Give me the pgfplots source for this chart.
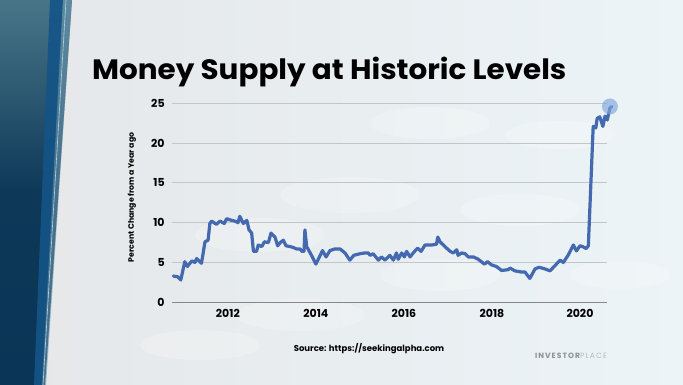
\documentclass[border=0pt]{standalone}
\usepackage{fontspec}
\setmainfont{Poppins}
\usepackage{pgfplots}
\pgfplotsset{compat=1.18}
\definecolor{linecol}{HTML}{4469B0}
\definecolor{gridcol}{HTML}{C3C6C9}
\definecolor{navy}{HTML}{0B3556}
\definecolor{navymid}{RGB}{14,56,88}
\definecolor{tealtop}{RGB}{72,118,136}
\definecolor{stripe}{RGB}{20,84,136}
\definecolor{stripelight}{RGB}{110,150,175}
\definecolor{edgecol}{RGB}{170,215,230}
\definecolor{bgleft}{RGB}{229,231,233}
\definecolor{bgright}{RGB}{236,244,247}
\definecolor{axiscol}{RGB}{135,135,135}
\definecolor{circcol}{RGB}{130,165,220}
\definecolor{ipdark}{HTML}{8C9196}
\definecolor{iplight}{HTML}{B4B9BE}
\begin{document}
\begin{tikzpicture}[x=1pt,y=1pt]
\useasboundingbox (0,0) rectangle (683,385);
% background
\shade[left color=bgleft, right color=bgright] (0,0) rectangle (683,385);
% faint coin texture
\begin{scope}[opacity=0.22]
\fill[white] (430,262) ellipse (60 and 16);
\fill[white] (560,250) ellipse (55 and 14);
\fill[white] (350,190) ellipse (70 and 18);
\fill[white] (520,175) ellipse (60 and 16);
\fill[white] (260,150) ellipse (65 and 17);
\fill[white] (440,110) ellipse (60 and 16);
\fill[white] (620,110) ellipse (50 and 14);
\fill[white] (300,70) ellipse (65 and 16);
\fill[white] (200,40) ellipse (60 and 15);
\end{scope}
% left panel
\shade[top color=tealtop, bottom color=navy, middle color=navymid] (0,385) -- (72,385) -- (45,0) -- (0,0) -- cycle;
\fill[stripe, opacity=0.9] (50,385) -- (63,385) -- (42,0) -- (34,0) -- cycle;
\fill[stripelight, opacity=0.6] (63,385) -- (72,385) -- (46,0) -- (42,0) -- cycle;
\draw[edgecol, line width=0.6] (66,385) -- (43,0);
% title
\node[anchor=base west, inner sep=0pt, xscale=1.05, font=\fontsize{28}{32}\selectfont\bfseries] at (92,305) {Money Supply at Historic Levels};
\begin{axis}[
  at={(172pt,82.7pt)}, anchor=south west,
  scale only axis, width=435pt, height=199pt,
  xmin=2010.73, xmax=2020.614, ymin=0, ymax=25,
  axis x line=bottom, axis y line=left,
  x axis line style={-, draw=axiscol, line width=1pt},
  y axis line style={draw=none},
  xtick={2012,2014,2016,2018,2020}, ytick={0,5,10,15,20,25},
  xticklabels={2012,2014,2016,2018,2020},
  tick style={draw=none},
  grid=major, xmajorgrids=false, ymajorgrids=true,
  grid style={draw=gridcol, line width=0.9pt},
  major grid style={draw=gridcol, line width=0.9pt},
  xticklabel style={anchor=north, inner sep=0pt, yshift=-5pt, font=\fontsize{11}{12}\selectfont\bfseries},
  yticklabel style={anchor=east, inner sep=0pt, xshift=-5pt, font=\fontsize{11}{12}\selectfont\bfseries},
  /pgf/number format/assume math mode=true,
  /pgf/number format/1000 sep={},
  clip=false,
]
\addplot[draw=none, only marks, mark=*, mark size=8pt, mark options={fill=circcol, draw=circcol, draw opacity=0, fill opacity=0.65}] coordinates {(2020.68,24.6)};
\addplot[color=linecol, line width=3.2pt, line join=round, line cap=round] coordinates {
(2010.76,3.3) (2010.86,3.2) (2010.93,2.8) (2011.02,5.1) (2011.08,4.5) (2011.18,5.2)
(2011.25,5.0) (2011.29,5.5) (2011.36,5.1) (2011.40,4.9) (2011.48,7.6) (2011.55,7.8)
(2011.59,9.9) (2011.63,10.2) (2011.74,9.8) (2011.82,10.2) (2011.92,9.9) (2011.97,10.5)
(2012.08,10.3) (2012.16,10.2) (2012.23,10.0) (2012.27,10.8) (2012.35,9.9) (2012.43,10.3)
(2012.48,9.1) (2012.54,8.7) (2012.58,6.4) (2012.65,6.4) (2012.69,7.2) (2012.77,7.0)
(2012.83,7.6) (2012.92,7.5) (2012.98,8.7) (2013.07,8.2) (2013.13,7.1) (2013.19,7.5)
(2013.26,7.8) (2013.32,7.1) (2013.41,7.0) (2013.48,6.9) (2013.56,6.7) (2013.64,6.7)
(2013.68,6.4) (2013.73,6.4) (2013.75,9.1) (2013.79,7.0) (2013.90,5.9) (2014.00,4.8)
(2014.08,5.7) (2014.15,6.5) (2014.23,5.7) (2014.32,6.5) (2014.43,6.7) (2014.55,6.7)
(2014.66,6.2) (2014.77,5.3) (2014.86,5.9) (2015.00,6.1) (2015.11,6.2) (2015.19,6.2)
(2015.23,5.9) (2015.30,6.1) (2015.42,5.3) (2015.49,5.7) (2015.57,5.3) (2015.68,5.9)
(2015.76,5.3) (2015.83,6.2) (2015.87,5.4) (2015.95,6.2) (2016.01,5.7) (2016.06,6.4)
(2016.14,5.7) (2016.21,6.2) (2016.31,6.8) (2016.39,6.4) (2016.48,7.2) (2016.63,7.2)
(2016.74,7.3) (2016.77,8.2) (2016.82,7.6) (2016.93,7.0) (2017.05,6.4) (2017.12,6.2)
(2017.20,6.6) (2017.23,5.9) (2017.31,6.2) (2017.39,6.1) (2017.46,5.7) (2017.58,5.7)
(2017.69,5.4) (2017.83,4.8) (2017.90,5.1) (2017.99,4.7) (2018.10,4.5) (2018.22,4.0)
(2018.37,4.1) (2018.41,4.3) (2018.52,3.95) (2018.67,3.8) (2018.75,3.8) (2018.86,3.0)
(2018.98,4.2) (2019.07,4.4) (2019.20,4.2) (2019.32,3.95) (2019.43,4.6) (2019.55,5.3)
(2019.62,5.0) (2019.73,5.9) (2019.85,7.2) (2019.92,6.45) (2020.00,7.1) (2020.06,7.0)
(2020.14,6.75) (2020.19,7.1) (2020.30,22.1) (2020.36,21.9) (2020.39,23.1) (2020.45,23.3)
(2020.52,22.1) (2020.57,23.4) (2020.62,22.9) (2020.68,24.4) (2020.72,24.6)
};
\end{axis}
% y label
\node[rotate=90, inner sep=0pt, font=\fontsize{7.8}{9}\selectfont\bfseries] at (132,187.5) {Percent Change from a Year ago};
% source
\node[inner sep=0pt, font=\fontsize{8.5}{10}\selectfont\bfseries] at (369,36) {Source: https://seekingalpha.com};
\node[inner sep=0pt, font=\fontsize{7.6}{9}\selectfont\addfontfeatures{LetterSpace=14}] at (571,29) {\textcolor{ipdark}{\bfseries INVESTOR}\textcolor{iplight}{PLACE}};
\end{tikzpicture}
\end{document}
